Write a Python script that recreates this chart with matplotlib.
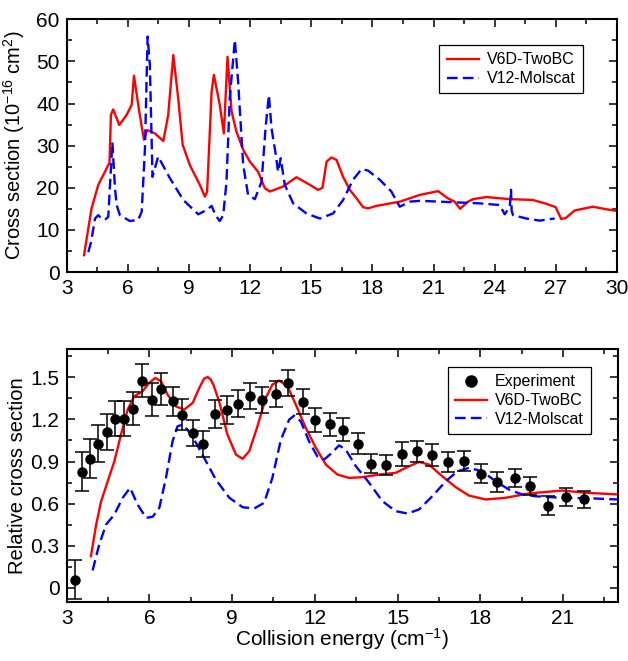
import matplotlib
matplotlib.use("Agg")
import matplotlib.pyplot as plt
from matplotlib.ticker import MultipleLocator, FormatStrFormatter
from matplotlib.lines import Line2D

plt.rcParams['font.family'] = ['Liberation Sans', 'DejaVu Sans']
plt.rcParams['mathtext.fontset'] = 'custom'
plt.rcParams['mathtext.rm'] = 'Liberation Sans'
plt.rcParams['mathtext.it'] = 'Liberation Sans:italic'
plt.rcParams['mathtext.default'] = 'regular'

# ---------------- Top panel data ----------------
red_top_x = [3.85, 4.22, 4.55, 4.96, 5.1, 5.17, 5.28, 5.58, 5.94, 6.19, 6.30, 6.56, 6.79, 6.95,
             7.33, 7.74, 7.98, 8.23, 8.47, 8.69, 9.04, 9.53, 9.78, 9.89, 10.11, 10.22, 10.51,
             10.71, 10.89, 11.09, 11.33, 11.66, 11.99, 12.39, 12.72, 12.97, 13.62, 14.27, 14.93,
             15.33, 15.55, 15.75, 15.99, 16.24, 16.56, 16.89, 17.22, 17.54, 17.78, 18.2, 19.34,
             20.32, 21.22, 21.7, 22.03, 22.3, 22.69, 22.93, 23.59, 24.73, 25.87, 26.53, 26.99,
             27.26, 27.48, 27.92, 28.81, 29.47, 30.0]
red_top_y = [4.0, 15.1, 20.7, 24.6, 26.0, 37.3, 38.6, 34.9, 37.3, 39.7, 46.6, 38.1, 31.4, 33.7,
             32.9, 31.1, 37.3, 51.5, 41.3, 30.2, 25.4, 20.7, 17.9, 19.1, 42.8, 46.8, 39.7,
             32.9, 51.1, 38.1, 33.3, 29.0, 26.2, 23.8, 19.9, 19.1, 20.3, 22.5, 20.7,
             19.5, 20.0, 26.2, 27.2, 26.6, 22.6, 19.5, 17.5, 15.4, 15.1, 15.7, 16.7,
             18.3, 19.2, 17.5, 16.7, 15.0, 16.7, 17.3, 17.8, 17.3, 17.1, 16.2, 15.4,
             12.6, 12.8, 14.6, 15.5, 14.9, 14.5]

blue_top_x = [4.06, 4.2, 4.39, 4.55, 4.63, 4.88, 5.04, 5.24, 5.37, 5.45, 5.61, 6.10, 6.51, 6.68,
              6.84, 6.97, 7.08, 7.21, 7.49, 8.06, 8.72, 9.45, 9.86, 10.11, 10.3, 10.51, 10.68,
              10.84, 11.0, 11.25, 11.41, 11.66, 11.9, 12.23, 12.56, 12.77, 12.92, 13.05, 13.26,
              13.37, 13.5, 13.70, 14.11, 14.76, 15.42, 16.07, 16.56, 17.05, 17.46, 17.78, 18.36,
              18.93, 19.34, 19.83, 20.32, 21.3, 22.28, 23.26, 24.24, 24.49, 24.74, 24.8, 24.83,
              24.9, 25.55, 26.2, 26.94]
blue_top_y = [4.7, 7.2, 12.7, 13.5, 13.1, 12.4, 13.1, 30.8, 19.9, 15.9, 13.5, 12.1, 12.4, 14.3,
              29.4, 55.9, 49.2, 22.6, 27.4, 22.3, 17.1, 13.7, 14.7, 15.7, 13.5, 12.1, 13.5,
              21.4, 41.3, 55.1, 45.2, 25.4, 18.3, 17.3, 21.4, 34.9, 42.0, 34.1, 27.8,
              23.8, 27.0, 20.7, 16.3, 13.9, 12.7, 13.9, 17.1, 21.9, 24.4, 24.1, 21.9,
              19.1, 15.5, 16.7, 16.9, 16.7, 16.5, 16.3, 15.9, 13.7, 15.5, 19.5, 14.5,
              13.5, 12.7, 12.2, 12.7]

# ---------------- Bottom panel data ----------------
exp_x = [3.30, 3.56, 3.86, 4.14, 4.46, 4.74, 5.08, 5.42, 5.73, 6.09, 6.42, 6.84, 7.20, 7.59,
         7.96, 8.38, 8.83, 9.23, 9.66, 10.10, 10.59, 11.04, 11.58, 12.01, 12.56, 13.03, 13.57,
         14.05, 14.59, 15.17, 15.72, 16.26, 16.84, 17.41, 18.01, 18.62, 19.25, 19.80, 20.46,
         21.12, 21.76]
exp_y = [0.057, 0.826, 0.919, 1.028, 1.108, 1.206, 1.206, 1.277, 1.477, 1.341, 1.417, 1.329,
         1.234, 1.104, 1.026, 1.239, 1.265, 1.313, 1.370, 1.336, 1.384, 1.460, 1.325, 1.199,
         1.165, 1.127, 1.028, 0.883, 0.873, 0.954, 0.973, 0.949, 0.897, 0.902, 0.814, 0.752,
         0.783, 0.724, 0.586, 0.648, 0.629]
exp_err = [0.137, 0.139, 0.139, 0.13, 0.128, 0.127, 0.127, 0.117, 0.119, 0.119, 0.116, 0.105,
           0.11, 0.092, 0.095, 0.097, 0.101, 0.099, 0.093, 0.093, 0.093, 0.093, 0.089, 0.086,
           0.08, 0.081, 0.077, 0.067, 0.071, 0.083, 0.075, 0.079, 0.07, 0.072, 0.068, 0.07,
           0.066, 0.066, 0.065, 0.063, 0.059]

red_bot_x = [3.88, 4.07, 4.25, 4.49, 4.73, 4.97, 5.21, 5.45, 5.75, 5.99, 6.21, 6.42, 6.66, 6.96,
             7.26, 7.57, 7.81, 7.98, 8.11, 8.22, 8.32, 8.53, 8.83, 9.14, 9.38, 9.62, 9.92, 10.22,
             10.46, 10.71, 11.01, 11.31, 11.67, 12.04, 12.4, 12.82, 13.24, 13.72, 14.33, 14.93,
             15.42, 15.78, 16.14, 16.62, 17.11, 17.59, 18.2, 18.92, 19.76, 20.97, 21.82, 23.0]
red_bot_y = [0.225, 0.451, 0.617, 0.76, 0.902, 1.092, 1.27, 1.365, 1.40, 1.46, 1.496, 1.472,
             1.377, 1.293, 1.27, 1.318, 1.425, 1.49, 1.503, 1.485, 1.448, 1.329, 1.092, 0.949,
             0.919, 0.973, 1.151, 1.353, 1.448, 1.477, 1.436, 1.306, 1.14, 0.997, 0.878, 0.807,
             0.783, 0.788, 0.807, 0.819, 0.866, 0.897, 0.878, 0.795, 0.717, 0.657, 0.629,
             0.641, 0.672, 0.693, 0.677, 0.665]

blue_bot_x = [3.94, 4.18, 4.43, 4.73, 5.03, 5.30, 5.57, 5.88, 6.12, 6.36, 6.60, 6.84, 7.02,
              7.20, 7.38, 7.69, 8.05, 8.41, 8.90, 9.38, 9.80, 10.16, 10.46, 10.77, 11.07, 11.25,
              11.49, 11.79, 12.09, 12.34, 12.58, 12.88, 13.12, 13.49, 13.97, 14.45, 14.93, 15.36,
              15.78, 16.26, 16.75, 17.17, 17.59, 18.07, 18.56, 19.04, 19.52, 20.01, 20.97,
              21.94, 23.0]
blue_bot_y = [0.123, 0.308, 0.451, 0.522, 0.641, 0.712, 0.593, 0.498, 0.506, 0.57, 0.783,
              1.044, 1.151, 1.163, 1.127, 1.033, 0.902, 0.771, 0.641, 0.574, 0.565, 0.605,
              0.783, 1.056, 1.199, 1.227, 1.187, 1.044, 0.937, 0.914, 0.955, 1.015, 0.985,
              0.866, 0.748, 0.617, 0.546, 0.529, 0.558, 0.652, 0.759, 0.83, 0.855, 0.83,
              0.759, 0.700, 0.665, 0.652, 0.641, 0.638, 0.629]

label_red = "V6D-TwoBC"
label_blue = "V12-Molscat"
label_exp = "Experiment"

RED = "#ff0000"
BLUE = "#0000ff"
DASH = (0, (4.5, 2.2))

fig = plt.figure(figsize=(6.28, 6.61), dpi=100)
ax1 = fig.add_axes([0.1062, 0.5885, 0.8763, 0.3823])
ax2 = fig.add_axes([0.1062, 0.0897, 0.8780, 0.3818])


def style(ax):
    for s in ax.spines.values():
        s.set_linewidth(1.5)
    ax.tick_params(which='both', direction='in', top=True, right=True,
                   labelsize=15, width=1.1, pad=5)
    ax.tick_params(which='major', length=6)
    ax.tick_params(which='minor', length=3.5)


ax1.plot(red_top_x, red_top_y, color=RED, lw=1.7, label=label_red)
ax1.plot(blue_top_x, blue_top_y, color=BLUE, lw=1.7, ls=DASH, label=label_blue)
ax1.set_xlim(3, 30)
ax1.set_ylim(0, 60)
ax1.xaxis.set_major_locator(MultipleLocator(3))
ax1.xaxis.set_minor_locator(MultipleLocator(1.5))
ax1.yaxis.set_major_locator(MultipleLocator(10))
ax1.yaxis.set_minor_locator(MultipleLocator(5))
style(ax1)
leg1 = ax1.legend(loc='upper right', bbox_to_anchor=(0.952, 0.93), fontsize=11.5,
                  fancybox=False, edgecolor='black', framealpha=1, handlelength=2.0,
                  handletextpad=0.5, borderpad=0.45, labelspacing=0.25)
leg1.get_frame().set_linewidth(0.9)
ax1.set_ylabel("Cross section (10$^{-16}$ cm$^{2}$)", fontsize=14.5)
ax1.yaxis.set_label_coords(-0.072, 0.5)

ax2.plot(red_bot_x, red_bot_y, color=RED, lw=1.7, label=label_red, zorder=2)
ax2.plot(blue_bot_x, blue_bot_y, color=BLUE, lw=1.7, ls=DASH, label=label_blue, zorder=2)
ax2.errorbar(exp_x, exp_y, yerr=exp_err, fmt='o', color='black', ms=6.5, elinewidth=1.1,
             capsize=5, capthick=1.1, label=label_exp, zorder=3)
ax2.set_xlim(3, 23)
ax2.set_ylim(-0.1, 1.7)
ax2.xaxis.set_major_locator(MultipleLocator(3))
ax2.xaxis.set_minor_locator(MultipleLocator(1.5))
ax2.yaxis.set_major_locator(MultipleLocator(0.3))
ax2.yaxis.set_minor_locator(MultipleLocator(0.15))
ax2.yaxis.set_major_formatter(FormatStrFormatter('%g'))
style(ax2)
h, l = ax2.get_legend_handles_labels()
exp_handle = Line2D([], [], marker='o', ls='none', color='black', ms=8)
handles = [exp_handle, h[l.index(label_red)], h[l.index(label_blue)]]
leg2 = ax2.legend(handles, [label_exp, label_red, label_blue], loc='upper right',
                  bbox_to_anchor=(0.965, 0.962), fontsize=11.5, fancybox=False,
                  edgecolor='black', framealpha=1, handlelength=2.0, handletextpad=0.5,
                  borderpad=0.45, labelspacing=0.25)
leg2.get_frame().set_linewidth(0.9)
ax2.set_ylabel("Relative cross section", fontsize=14.5)
ax2.yaxis.set_label_coords(-0.072, 0.5)
ax2.set_xlabel("Collision energy (cm$^{-1}$)", fontsize=15, labelpad=-1)

fig.savefig("out.png", dpi=100)
